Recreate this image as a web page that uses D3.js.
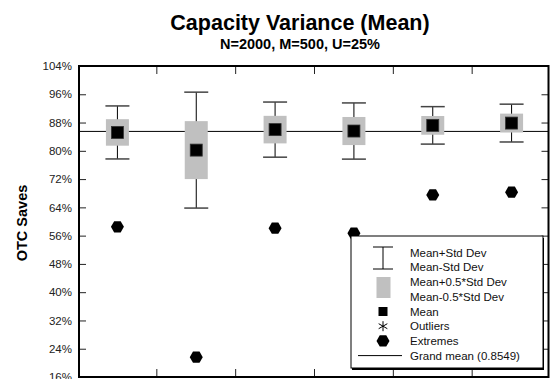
<!DOCTYPE html>
<html>
<head>
<meta charset="utf-8">
<script src="https://cdn.jsdelivr.net/npm/d3@7/dist/d3.min.js"></script>
<style>
  html, body { margin: 0; padding: 0; background: #fff; }
  svg { display: block; font-family: "Liberation Sans", Arial, sans-serif; }
</style>
</head>
<body>
<svg id="chart" width="550" height="379"></svg>
<script>
// ---- data ----
const categories = ["1", "2", "3", "4", "5", "6"];
const means    = [85.2, 80.2, 86.0, 85.6, 87.2, 87.85];
const stdDevs  = [7.5, 16.4, 7.8, 7.95, 5.3, 5.35];
const extremes = [58.5, 21.6, 58.1, 56.7, 67.5, 68.3];
const grandMean = 85.49;
const yTicks = [16, 24, 32, 40, 48, 56, 64, 72, 80, 88, 96, 104];
const legendLabels = ["Mean+Std Dev", "Mean-Std Dev", "Mean+0.5*Std Dev", "Mean-0.5*Std Dev",
                      "Mean", "Outliers", "Extremes", "Grand mean (0.8549)"];

const svg = d3.select("#chart");
const L = 79, R = 548.5, T = 66, B = 377;

const x = d3.scaleBand().domain(categories).range([78, 551]).paddingInner(0).paddingOuter(0);
const y = d3.scaleLinear().domain([16, 104]).range([377, 66]);

// titles
svg.append("text").attr("x", 300).attr("y", 29.5).attr("text-anchor", "middle")
  .attr("font-size", 21.5).attr("font-weight", "bold").text("Capacity Variance (Mean)");
svg.append("text").attr("x", 300).attr("y", 49).attr("text-anchor", "middle")
  .attr("font-size", 14.5).attr("font-weight", "bold").text("N=2000, M=500, U=25%");

// y axis title
svg.append("text").attr("transform", "translate(26.7,223) rotate(-90)")
  .attr("text-anchor", "middle").attr("font-size", 14.5).attr("font-weight", "bold").text("OTC Saves");

// y tick labels (left)
const yAxisL = d3.axisLeft(y).tickValues(yTicks).tickFormat(d => d + "%").tickSize(0).tickPadding(0);
const gL = svg.append("g").attr("transform", "translate(72,0)").call(yAxisL);
gL.select(".domain").remove();
gL.selectAll("text").attr("font-size", 11.5).attr("fill", "#222").attr("font-family", "Liberation Sans, Arial, sans-serif");

// inward ticks
const yAxisTicksL = d3.axisRight(y).tickValues(yTicks).tickSize(7).tickFormat("");
const gTL = svg.append("g").attr("transform", `translate(${L},0)`).call(yAxisTicksL);
gTL.select(".domain").remove();
gTL.selectAll("line").attr("stroke", "#222");
const yAxisTicksR = d3.axisLeft(y).tickValues(yTicks).tickSize(7).tickFormat("");
const gTR = svg.append("g").attr("transform", `translate(${R},0)`).call(yAxisTicksR);
gTR.select(".domain").remove();
gTR.selectAll("line").attr("stroke", "#222");

// category boundary ticks (top and bottom)
const bounds = categories.slice(1).map(c => x(c));
svg.append("g").selectAll("line.top").data(bounds).join("line")
  .attr("x1", d => d).attr("x2", d => d).attr("y1", T).attr("y2", T + 8)
  .attr("stroke", "#222").attr("stroke-width", 1);
svg.append("g").selectAll("line.bot").data(bounds).join("line")
  .attr("x1", d => d).attr("x2", d => d).attr("y1", B - 8).attr("y2", B)
  .attr("stroke", "#222").attr("stroke-width", 1);

// grand mean line
svg.append("line").attr("x1", L).attr("x2", R).attr("y1", y(grandMean)).attr("y2", y(grandMean))
  .attr("stroke", "#000").attr("stroke-width", 1);

const data = categories.map((c, i) => ({ c, m: means[i], s: stdDevs[i], e: extremes[i] }));
const cx = d => x(d.c) + x.bandwidth() / 2;

// whiskers
const g = svg.append("g");
g.selectAll("line.wh").data(data).join("line")
  .attr("x1", cx).attr("x2", cx).attr("y1", d => y(d.m + d.s)).attr("y2", d => y(d.m - d.s))
  .attr("stroke", "#000").attr("stroke-width", 1);
["+", "-"].forEach(sign => {
  g.selectAll("line.cap" + (sign === "+" ? "p" : "m")).data(data).join("line")
    .attr("x1", d => cx(d) - 12).attr("x2", d => cx(d) + 12)
    .attr("y1", d => y(sign === "+" ? d.m + d.s : d.m - d.s))
    .attr("y2", d => y(sign === "+" ? d.m + d.s : d.m - d.s))
    .attr("stroke", "#444").attr("stroke-width", 1.5);
});
// half std boxes
g.selectAll("rect.box").data(data).join("rect")
  .attr("x", d => cx(d) - 11.5).attr("width", 23)
  .attr("y", d => y(d.m + d.s / 2)).attr("height", d => y(d.m - d.s / 2) - y(d.m + d.s / 2))
  .attr("fill", "#c0c0c0");
// mean squares
g.selectAll("rect.mean").data(data).join("rect")
  .attr("x", d => cx(d) - 6).attr("y", d => y(d.m) - 6).attr("width", 12).attr("height", 12)
  .attr("fill", "#000").attr("stroke", "#333").attr("stroke-width", 0.8);

// hexagon helper
function hexPath(r) {
  const pts = d3.range(6).map(k => {
    const a = k * Math.PI / 3;
    return [r * Math.cos(a), r * Math.sin(a)];
  });
  return "M" + pts.map(p => p.join(",")).join("L") + "Z";
}
g.selectAll("path.ext").data(data).join("path")
  .attr("d", hexPath(6.5)).attr("transform", d => `translate(${cx(d)},${y(d.e)})`)
  .attr("fill", "#000");

// frame
svg.append("rect").attr("x", L).attr("y", T).attr("width", R - L).attr("height", B - T)
  .attr("fill", "none").attr("stroke", "#000").attr("stroke-width", 2);

// legend
const lg = svg.append("g");
lg.append("rect").attr("x", 352).attr("y", 238).attr("width", 192).attr("height", 132).attr("fill", "#000");
lg.append("rect").attr("x", 351).attr("y", 236).attr("width", 192).attr("height", 132)
  .attr("fill", "#fff").attr("stroke", "#000").attr("stroke-width", 1);
const rowY = i => 252.7 + i * 14.7;
lg.selectAll("text").data(legendLabels).join("text")
  .attr("x", 410).attr("y", (d, i) => rowY(i) + 4).attr("font-size", 11.5).attr("fill", "#111").text(d => d);
const sx = 383;
// whisker symbol
lg.append("line").attr("x1", sx).attr("x2", sx).attr("y1", 247).attr("y2", 269).attr("stroke", "#000");
lg.append("line").attr("x1", sx - 10).attr("x2", sx + 10).attr("y1", 247).attr("y2", 247).attr("stroke", "#000");
lg.append("line").attr("x1", sx - 10).attr("x2", sx + 10).attr("y1", 269).attr("y2", 269).attr("stroke", "#000");
// gray box
lg.append("rect").attr("x", sx - 6.5).attr("y", 277).attr("width", 14).attr("height", 21).attr("fill", "#c0c0c0");
// mean
lg.append("rect").attr("x", sx - 4.5).attr("y", rowY(4) - 4.5).attr("width", 9).attr("height", 9).attr("fill", "#000");
// outliers
lg.append("path").attr("d", d3.symbol(d3.symbolAsterisk, 70)()).attr("transform", `translate(${sx},${rowY(5)})`)
  .attr("stroke", "#000").attr("stroke-width", 1).attr("fill", "none");
// extremes
lg.append("path").attr("d", hexPath(6.5)).attr("transform", `translate(${sx},${rowY(6)})`).attr("fill", "#000");
// grand mean line
lg.append("line").attr("x1", 358).attr("x2", 402).attr("y1", rowY(7)).attr("y2", rowY(7)).attr("stroke", "#000");
</script>
</body>
</html>
